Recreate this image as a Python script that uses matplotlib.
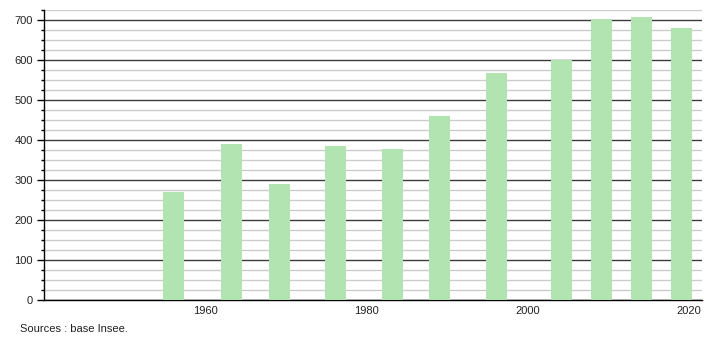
import matplotlib
matplotlib.use("Agg")
import matplotlib.pyplot as plt
from matplotlib.ticker import MultipleLocator

years = [1956.1, 1963.2, 1969.2, 1976.1, 1983.2, 1989.1, 1996.1, 2004.2, 2009.1, 2014.1, 2019.1]
population = [270, 390, 290, 385, 377, 460, 567, 600, 702, 707, 680]
xticks = [1960, 1980, 2000, 2020]
yticks = [0, 100, 200, 300, 400, 500, 600, 700]

plt.rcParams['font.family'] = ['Liberation Sans', 'DejaVu Sans']

fig = plt.figure(figsize=(7.1, 3.4), dpi=100)
ax = fig.add_axes([44/710, 40/340, (702-44)/710, 290/340])

ax.set_xlim(1940, 2021.6)
ax.set_ylim(0, 725)

ax.yaxis.set_major_locator(MultipleLocator(100))
ax.yaxis.set_minor_locator(MultipleLocator(25))
ax.set_yticks(yticks)
ax.set_xticks(xticks)
ax.set_xticklabels([str(y) for y in xticks])

ax.grid(which='minor', axis='y', color='#cccccc', linewidth=1.0)
ax.grid(which='major', axis='y', color='#3a3a3a', linewidth=1.0)
ax.set_axisbelow(True)

ax.bar(years, population, width=2.6, color='#b2e4b2', edgecolor='none', zorder=3)

for s in ['top', 'right']:
    ax.spines[s].set_visible(False)
ax.spines['left'].set_color('black')
ax.spines['bottom'].set_color('black')
ax.spines['left'].set_linewidth(1.0)
ax.spines['bottom'].set_linewidth(1.0)

ax.tick_params(axis='y', which='major', length=5, width=1, labelsize=8, pad=3, labelcolor='#222222')
ax.tick_params(axis='y', which='minor', length=2.5, width=1)
ax.tick_params(axis='x', which='major', length=0, labelsize=8, pad=4, labelcolor='#222222')

fig.text(20/710, 1 - 329/340, 'Sources : base Insee.', fontsize=8, va='center', ha='left', color='#222222')

fig.savefig('out.png', dpi=100)
